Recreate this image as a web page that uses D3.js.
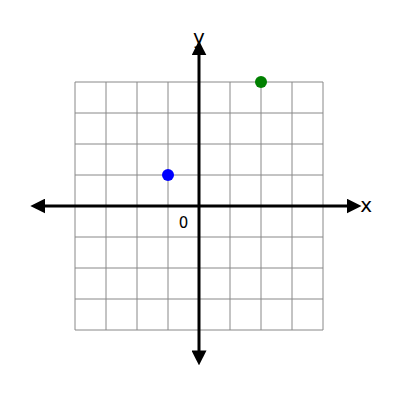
<!DOCTYPE html>
<html>
<head>
<script src="https://cdn.jsdelivr.net/npm/d3@7"></script>
<style>body{margin:0;background:#fff}</style>
</head>
<body>
<script>
const gridTicks = [-4, -3, -2, -1, 0, 1, 2, 3, 4];
const pointX = [-1, 2];
const pointY = [1, 4];
const pointColors = ["blue", "green"];

const width = 400, height = 400;
const svg = d3.select("body").append("svg").attr("width", width).attr("height", height);

const x = d3.scaleLinear().domain([-4, 4]).range([75, 323]);
const y = d3.scaleLinear().domain([-4, 4]).range([330, 82]);

//Grid
svg.append("g").selectAll("line.v").data(gridTicks).enter().append("line")
  .attr("x1", d => x(d)).attr("x2", d => x(d))
  .attr("y1", y(-4)).attr("y2", y(4))
  .attr("stroke", "#888").attr("stroke-width", 1);
svg.append("g").selectAll("line.h").data(gridTicks).enter().append("line")
  .attr("y1", d => y(d)).attr("y2", d => y(d))
  .attr("x1", x(-4)).attr("x2", x(4))
  .attr("stroke", "#888").attr("stroke-width", 1);

//Arrow markers
const defs = svg.append("defs");
defs.append("marker").attr("id", "arrow").attr("viewBox", "0 0 10 10")
  .attr("refX", 5).attr("refY", 5).attr("markerWidth", 5).attr("markerHeight", 5)
  .attr("markerUnits", "strokeWidth").attr("orient", "auto-start-reverse")
  .append("path").attr("d", "M0,0 L10,5 L0,10 z").attr("fill", "black");

//Axes
svg.append("line")
  .attr("x1", x(-5.2)).attr("x2", x(5.0))
  .attr("y1", y(0)).attr("y2", y(0))
  .attr("stroke", "black").attr("stroke-width", 3)
  .attr("marker-start", "url(#arrow)").attr("marker-end", "url(#arrow)");
svg.append("line")
  .attr("x1", x(0)).attr("x2", x(0))
  .attr("y1", y(-4.9)).attr("y2", y(5.1))
  .attr("stroke", "black").attr("stroke-width", 3)
  .attr("marker-start", "url(#arrow)").attr("marker-end", "url(#arrow)");

//Labels
svg.append("text").attr("x", x(5.2)).attr("y", y(0) + 6).text("x")
  .attr("font-family", "DejaVu Sans").attr("font-size", 20);
svg.append("text").attr("x", x(0)).attr("y", y(5.1) - 4).text("y")
  .attr("text-anchor", "middle").attr("font-family", "DejaVu Sans").attr("font-size", 20);
svg.append("text").attr("x", x(-0.5)).attr("y", y(-0.7)).text("0")
  .attr("text-anchor", "middle").attr("font-family", "DejaVu Sans").attr("font-size", 15);

//Points
svg.selectAll("circle").data(pointX).enter().append("circle")
  .attr("cx", d => x(d)).attr("cy", (d, i) => y(pointY[i]))
  .attr("r", 6).attr("fill", (d, i) => pointColors[i]);
</script>
</body>
</html>
